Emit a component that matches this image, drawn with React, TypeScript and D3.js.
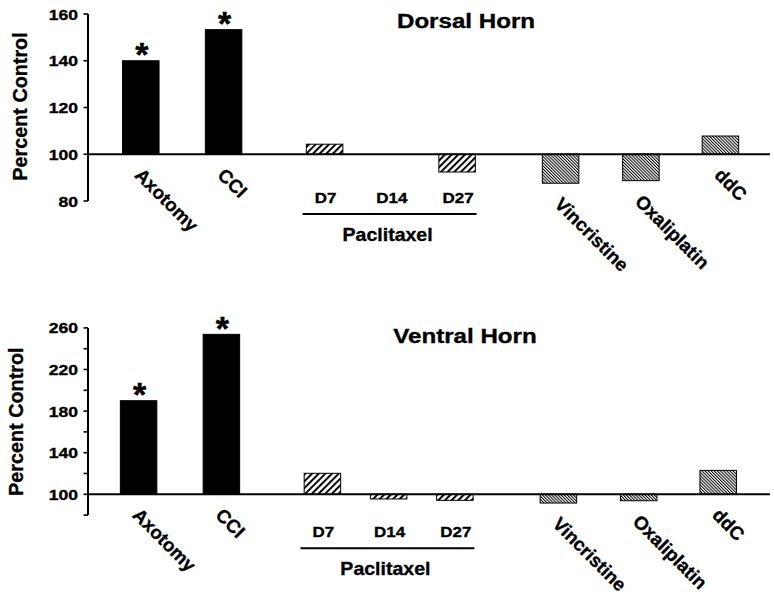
import React from "react";
import * as d3 from "d3";

// ---------------- data ----------------
const categories = ["Axotomy", "CCI", "D7", "D14", "D27", "Vincristine", "Oxaliplatin", "ddC"];
const groupOf = ["injury", "injury", "paclitaxel", "paclitaxel", "paclitaxel", "chemo", "chemo", "chemo"];
const dorsalValues = [140, 153.3, 104.3, 100, 92.4, 87.6, 88.7, 107.8];
const ventralValues = [190, 253.8, 120.2, 95.5, 94.2, 91.6, 93.8, 123];
const dorsalStars = [true, true, false, false, false, false, false, false];
const ventralStars = [true, true, false, false, false, false, false, false];
const dorsalTicks = [80, 100, 120, 140, 160];
const dorsalMinorTicks: number[] = [];
const ventralTicks = [100, 140, 180, 220, 260];
const ventralMinorTicks = [80, 120, 160, 200, 240];
const groupLabel = "Paclitaxel";
const titles = ["Dorsal Horn", "Ventral Horn"];
const yLabel = "Percent Control";

// ---------------- layout ----------------
const FONT = "'Liberation Sans', Arial, Helvetica, sans-serif";
const slots = [0, 1, 2.22, 3.02, 3.82, 5.07, 6.04, 7.0];
const AXIS_X = 88;
const BASE_END = 770;
const BAR_W = 36.5;
const TEXT_STROKE = 0.35;

type Panel = {
  title: string;
  values: number[];
  stars: boolean[];
  ticks: number[];
  minor: number[];
  yDomain: [number, number];
  yRange: [number, number];
  xStart: number;
  titleX: number;
  titleY: number;
  yLabelX: number;
  yLabelY: number;
  dLabelY: number;
  groupLineY: number;
  groupTextY: number;
};

const panels: Panel[] = [
  {
    title: titles[0],
    values: dorsalValues,
    stars: dorsalStars,
    ticks: dorsalTicks,
    minor: dorsalMinorTicks,
    yDomain: [80, 160],
    yRange: [201, 14],
    xStart: 140.8,
    titleX: 466,
    titleY: 28.3,
    yLabelX: 26.7,
    yLabelY: 106.5,
    dLabelY: 202.7,
    groupLineY: 214,
    groupTextY: 240.7,
  },
  {
    title: titles[1],
    values: ventralValues,
    stars: ventralStars,
    ticks: ventralTicks,
    minor: ventralMinorTicks,
    yDomain: [80, 260],
    yRange: [515.1, 327.9],
    xStart: 138.6,
    titleX: 465,
    titleY: 343,
    yLabelX: 22.7,
    yLabelY: 421.7,
    dLabelY: 537.3,
    groupLineY: 548.3,
    groupTextY: 575,
  },
];

function HText(props: {
  x: number;
  y: number;
  size: number;
  sx?: number;
  anchor?: string;
  baseline?: string;
  children: React.ReactNode;
}) {
  const { x, y, size, sx = 1, anchor = "middle", baseline } = props;
  return (
    <text
      transform={`translate(${x},${y}) scale(${sx},1)`}
      fontFamily={FONT}
      fontWeight="bold"
      fontSize={size}
      textAnchor={anchor}
      dominantBaseline={baseline}
      fill="#000"
      stroke="#000"
      strokeWidth={TEXT_STROKE}
    >
      {props.children}
    </text>
  );
}

function PanelView({ p }: { p: Panel }) {
  const y = d3.scaleLinear().domain(p.yDomain).range(p.yRange);
  const x = d3
    .scaleLinear()
    .domain([0, 1])
    .range([p.xStart, p.xStart + 82.8]);
  const y100 = y(100);

  const fillFor = (g: string) =>
    g === "injury" ? "#000" : g === "paclitaxel" ? "url(#hatchWide)" : "url(#hatchFine)";

  const pacIdx = categories.map((_, i) => i).filter((i) => groupOf[i] === "paclitaxel");
  const lineX0 = x(slots[pacIdx[0]]) - 22;
  const lineX1 = x(slots[pacIdx[pacIdx.length - 1]]) + 19.5;

  return (
    <g>
      {/* title */}
      <HText x={p.titleX} y={p.titleY} size={21} sx={1.15}>
        {p.title}
      </HText>

      {/* y label */}
      <text
        transform={`translate(${p.yLabelX},${p.yLabelY}) rotate(-90)`}
        fontFamily={FONT}
        fontWeight="bold"
        fontSize={19.8}
        textAnchor="middle"
        fill="#000"
        stroke="#000"
        strokeWidth={TEXT_STROKE}
      >
        {yLabel}
      </text>

      {/* bars */}
      {categories.map((c, i) => {
        const v = p.values[i];
        const yv = y(v);
        const top = Math.min(yv, y100);
        const h = Math.abs(yv - y100);
        const xc = x(slots[i]);
        if (h < 0.01) return null;
        return (
          <rect
            key={c}
            x={xc - BAR_W / 2}
            y={top}
            width={BAR_W}
            height={h}
            fill={fillFor(groupOf[i])}
            stroke="#000"
            strokeWidth={1}
          />
        );
      })}

      {/* asterisks */}
      {categories.map((c, i) =>
        p.stars[i] ? (
          <text
            key={"s" + c}
            x={x(slots[i]) + 1}
            y={y(p.values[i]) + 5.2}
            fontFamily={FONT}
            fontWeight="bold"
            fontSize={34}
            textAnchor="middle"
            fill="#000"
            stroke="#000"
            strokeWidth={0.5}
          >
            *
          </text>
        ) : null
      )}

      {/* y axis */}
      <line
        x1={AXIS_X}
        x2={AXIS_X}
        y1={y(p.yDomain[0])}
        y2={y(p.yDomain[1])}
        stroke="#000"
        strokeWidth={2}
      />
      {p.ticks.concat(p.minor).map((t) => (
        <line key={"t" + t} x1={AXIS_X - 4.5} x2={AXIS_X} y1={y(t)} y2={y(t)} stroke="#000" strokeWidth={1.6} />
      ))}
      {p.ticks.map((t) => (
        <HText key={"tl" + t} x={78} y={y(t)} size={15} sx={1.17} anchor="end" baseline="central">
          {t}
        </HText>
      ))}

      {/* baseline at 100 */}
      <line x1={AXIS_X} x2={BASE_END} y1={y100} y2={y100} stroke="#000" strokeWidth={2} />

      {/* category labels */}
      {categories.map((c, i) => {
        const xc = x(slots[i]);
        if (groupOf[i] === "paclitaxel") {
          return (
            <HText key={"l" + c} x={xc + 1} y={p.dLabelY} size={15} sx={1.13}>
              {c}
            </HText>
          );
        }
        const lowest = Math.max(y100, y(p.values[i]));
        const ax = xc - 7;
        const ay = lowest + 22;
        return (
          <text
            key={"l" + c}
            transform={`translate(${ax},${ay}) rotate(45)`}
            fontFamily={FONT}
            fontWeight="bold"
            fontSize={18.7}
            textAnchor="start"
            fill="#000"
            stroke="#000"
            strokeWidth={TEXT_STROKE}
          >
            {c}
          </text>
        );
      })}

      {/* paclitaxel group */}
      <line x1={lineX0} x2={lineX1} y1={p.groupLineY} y2={p.groupLineY} stroke="#000" strokeWidth={2} />
      <HText x={(lineX0 + lineX1) / 2 - 2} y={p.groupTextY} size={18.6} sx={1.05}>
        {groupLabel}
      </HText>
    </g>
  );
}

export default function App() {
  return (
    <svg
      width={774}
      height={605}
      viewBox="0 0 774 605"
      style={{ position: "fixed", left: 0, top: 0, background: "#fff" }}
    >
      <defs>
        <pattern
          id="hatchWide"
          patternUnits="userSpaceOnUse"
          width={4.7}
          height={4.7}
          patternTransform="rotate(45)"
        >
          <rect width={4.7} height={4.7} fill="#fff" />
          <line x1={1} y1={0} x2={1} y2={4.7} stroke="#000" strokeWidth={2} />
        </pattern>
        <pattern
          id="hatchFine"
          patternUnits="userSpaceOnUse"
          width={2.2}
          height={2.2}
          patternTransform="rotate(-45)"
        >
          <rect width={2.2} height={2.2} fill="#fff" />
          <line x1={0.5} y1={0} x2={0.5} y2={2.2} stroke="#000" strokeWidth={1} />
        </pattern>
      </defs>
      <rect width={774} height={605} fill="#fff" />
      {panels.map((p, i) => (
        <PanelView key={i} p={p} />
      ))}
    </svg>
  );
}
